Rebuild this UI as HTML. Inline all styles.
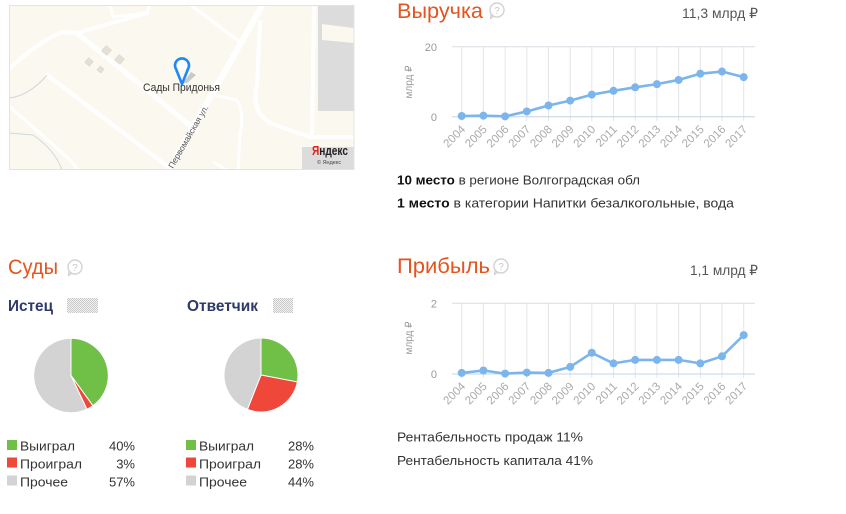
<!DOCTYPE html>
<html><head><meta charset="utf-8"><style>
html,body{margin:0;padding:0;background:#fff;width:846px;height:514px;overflow:hidden}
svg{display:block;font-family:"Liberation Sans",sans-serif}
</style></head><body>
<svg width="846" height="514" viewBox="0 0 846 514" xmlns="http://www.w3.org/2000/svg">
<defs>
<clipPath id="mc"><rect x="9.5" y="5.5" width="344.5" height="164"/></clipPath>
<pattern id="dots" width="2" height="2" patternUnits="userSpaceOnUse">
<rect width="2" height="2" fill="#f3f3f3"/><rect width="1" height="1" fill="#c8c8c8"/><rect x="1" y="1" width="1" height="1" fill="#c8c8c8"/>
</pattern>
<g id="qi">
<path d="M-3.5,6.2 L-6.5,8.5 L-5.8,4.2" fill="#fff" stroke="#d2d2d2" stroke-width="1.4" stroke-linejoin="round"/>
<circle r="7" fill="#fff" stroke="#d2d2d2" stroke-width="1.4"/>
<text y="3.8" font-size="10" fill="#c8c8c8" text-anchor="middle">?</text>
</g>
</defs>

<!-- MAP -->
<g clip-path="url(#mc)">
<rect x="9.5" y="5.5" width="344.5" height="164" fill="#fbf8f0"/>
<rect x="318" y="5" width="40" height="106" fill="#dcdcdc"/>
<polygon points="322,24 354,28 354,43 322,40" fill="#fbf8f0"/>
<rect x="302" y="147" width="56" height="25" fill="#dcdcdc"/>
<g fill="none" stroke="#ffffff" stroke-linecap="round">
<path d="M263,4 L168,172" stroke-width="6"/>
<path d="M77,33 L197,131" stroke-width="5"/>
<path d="M47,75 L175,172" stroke-width="4"/>
<path d="M8,70 Q40,40 63,32 L77,33 L147,13" stroke-width="4"/>
<path d="M110,6 L113,17 L147,13 L150,4" stroke-width="3"/>
<path d="M192,6 L240,42" stroke-width="3"/>
<path d="M260,22 L257,84 Q250,115 275,125 L310,137 L356,137" stroke-width="4"/>
<path d="M314,4 L312,135" stroke-width="4"/>
<path d="M215,95 L236,100 Q245,110 240,135 L238,172" stroke-width="3"/>
<path d="M8,105 L70,160 L80,172" stroke-width="3"/>
<path d="M215,163 L230,172" stroke-width="3"/>
</g>
<g fill="none" stroke="#cfd7e0" stroke-width="1">
<path d="M9,133 L33,135 Q55,150 62,170"/>
<path d="M47,75 Q30,95 10,98"/>
</g>
<g fill="#e4e0d8" stroke="#d6d2ca" stroke-width="0.5">
<rect x="103" y="47" width="7" height="7" transform="rotate(40 106.5 50.5)"/>
<rect x="116" y="56" width="7" height="7" transform="rotate(40 119.5 59.5)"/>
<rect x="86" y="59" width="6" height="6" transform="rotate(40 89 62)"/>
<rect x="98" y="67" width="5" height="5" transform="rotate(40 100.5 69.5)"/>
</g>
<polygon points="183,83 191,72 196,75 187,83" fill="#bdbdbd" opacity="0.8"/>
<path d="M182,84 L176,69 A7,7 0 1 1 188,69 Z" fill="none" stroke="#1e88f5" stroke-width="2.6" stroke-linejoin="round"/>
<circle cx="182" cy="65.5" r="5" fill="#fff"/>
<text x="143" y="91" font-size="11" fill="#333" textLength="77" lengthAdjust="spacingAndGlyphs">Сады Придонья</text>
<text x="0" y="0" font-size="8.5" fill="#555" transform="translate(173,169) rotate(-60)">Первомайская ул.</text>
<text x="312" y="155" font-size="13" font-weight="bold" fill="#222" textLength="36" lengthAdjust="spacingAndGlyphs"><tspan fill="#e3231b">Я</tspan>ндекс</text>
<text x="317" y="164" font-size="5.5" fill="#444">© Яндекс</text>
</g>
<rect x="9.5" y="5.5" width="344.5" height="164" fill="none" stroke="#e3e3e3" stroke-width="1"/>

<!-- REVENUE -->
<text x="397" y="18" font-size="21" fill="#e4541e" textLength="86" lengthAdjust="spacingAndGlyphs">Выручка</text>
<use href="#qi" x="497" y="10"/>
<text x="758" y="18" font-size="14" fill="#555" text-anchor="end" textLength="76" lengthAdjust="spacingAndGlyphs">11,3 млрд ₽</text>

<g stroke="#e2e6ea" stroke-width="1">
<line x1="461.7" y1="46.7" x2="461.7" y2="121"/><line x1="483.4" y1="46.7" x2="483.4" y2="121"/><line x1="505.1" y1="46.7" x2="505.1" y2="121"/><line x1="526.8" y1="46.7" x2="526.8" y2="121"/><line x1="548.5" y1="46.7" x2="548.5" y2="121"/><line x1="570.2" y1="46.7" x2="570.2" y2="121"/><line x1="591.8" y1="46.7" x2="591.8" y2="121"/><line x1="613.5" y1="46.7" x2="613.5" y2="121"/><line x1="635.2" y1="46.7" x2="635.2" y2="121"/><line x1="656.9" y1="46.7" x2="656.9" y2="121"/><line x1="678.6" y1="46.7" x2="678.6" y2="121"/><line x1="700.3" y1="46.7" x2="700.3" y2="121"/><line x1="722" y1="46.7" x2="722" y2="121"/><line x1="743.7" y1="46.7" x2="743.7" y2="121"/>
</g>
<line x1="452" y1="46.7" x2="755" y2="46.7" stroke="#d8dde4"/>
<line x1="452" y1="116.7" x2="755" y2="116.7" stroke="#c6d3e2"/>
<text x="437" y="51" font-size="11" fill="#999" text-anchor="end">20</text>
<text x="437" y="121" font-size="11" fill="#999" text-anchor="end">0</text>
<text font-size="10" fill="#999" text-anchor="middle" transform="translate(412,82) rotate(-90)">млрд ₽</text>
<polyline fill="none" stroke="#7cb5ec" stroke-width="2.6" stroke-linejoin="round" points="461.7,116 483.4,115.65 505.1,116.35 526.8,111.45 548.5,105.5 570.2,100.6 591.8,94.65 613.5,90.8 635.2,87.3 656.9,84.15 678.6,79.95 700.3,73.65 722,71.55 743.7,77.15"/>
<g fill="#7cb5ec">
<circle cx="461.7" cy="116" r="4"/><circle cx="483.4" cy="115.65" r="4"/><circle cx="505.1" cy="116.35" r="4"/><circle cx="526.8" cy="111.45" r="4"/><circle cx="548.5" cy="105.5" r="4"/><circle cx="570.2" cy="100.6" r="4"/><circle cx="591.8" cy="94.65" r="4"/><circle cx="613.5" cy="90.8" r="4"/><circle cx="635.2" cy="87.3" r="4"/><circle cx="656.9" cy="84.15" r="4"/><circle cx="678.6" cy="79.95" r="4"/><circle cx="700.3" cy="73.65" r="4"/><circle cx="722" cy="71.55" r="4"/><circle cx="743.7" cy="77.15" r="4"/>
</g>
<g font-size="11.5" fill="#aaa" text-anchor="end">
<text transform="translate(466,130) rotate(-45)">2004</text><text transform="translate(487.7,130) rotate(-45)">2005</text><text transform="translate(509.4,130) rotate(-45)">2006</text><text transform="translate(531.1,130) rotate(-45)">2007</text><text transform="translate(552.8,130) rotate(-45)">2008</text><text transform="translate(574.5,130) rotate(-45)">2009</text><text transform="translate(596.1,130) rotate(-45)">2010</text><text transform="translate(617.8,130) rotate(-45)">2011</text><text transform="translate(639.5,130) rotate(-45)">2012</text><text transform="translate(661.2,130) rotate(-45)">2013</text><text transform="translate(682.9,130) rotate(-45)">2014</text><text transform="translate(704.6,130) rotate(-45)">2015</text><text transform="translate(726.3,130) rotate(-45)">2016</text><text transform="translate(748,130) rotate(-45)">2017</text>
</g>

<text x="397" y="184.5" font-size="13" fill="#333" textLength="243" lengthAdjust="spacingAndGlyphs"><tspan font-weight="bold" fill="#111">10 место</tspan> в регионе Волгоградская обл</text>
<text x="397" y="207.5" font-size="13" fill="#333" textLength="337" lengthAdjust="spacingAndGlyphs"><tspan font-weight="bold" fill="#111">1 место</tspan> в категории Напитки безалкогольные, вода</text>

<!-- PROFIT -->
<text x="397" y="273" font-size="21" fill="#e4541e" textLength="93" lengthAdjust="spacingAndGlyphs">Прибыль</text>
<use href="#qi" x="501" y="266"/>
<text x="758" y="275" font-size="14" fill="#555" text-anchor="end" textLength="68" lengthAdjust="spacingAndGlyphs">1,1 млрд ₽</text>

<g stroke="#e2e6ea" stroke-width="1">
<line x1="461.7" y1="303.3" x2="461.7" y2="378"/><line x1="483.4" y1="303.3" x2="483.4" y2="378"/><line x1="505.1" y1="303.3" x2="505.1" y2="378"/><line x1="526.8" y1="303.3" x2="526.8" y2="378"/><line x1="548.5" y1="303.3" x2="548.5" y2="378"/><line x1="570.2" y1="303.3" x2="570.2" y2="378"/><line x1="591.8" y1="303.3" x2="591.8" y2="378"/><line x1="613.5" y1="303.3" x2="613.5" y2="378"/><line x1="635.2" y1="303.3" x2="635.2" y2="378"/><line x1="656.9" y1="303.3" x2="656.9" y2="378"/><line x1="678.6" y1="303.3" x2="678.6" y2="378"/><line x1="700.3" y1="303.3" x2="700.3" y2="378"/><line x1="722" y1="303.3" x2="722" y2="378"/><line x1="743.7" y1="303.3" x2="743.7" y2="378"/>
</g>
<line x1="452" y1="303.3" x2="755" y2="303.3" stroke="#d8dde4"/>
<line x1="452" y1="374" x2="755" y2="374" stroke="#c6d3e2"/>
<text x="437" y="307.5" font-size="11" fill="#999" text-anchor="end">2</text>
<text x="437" y="378" font-size="11" fill="#999" text-anchor="end">0</text>
<text font-size="10" fill="#999" text-anchor="middle" transform="translate(412,338) rotate(-90)">млрд ₽</text>
<polyline fill="none" stroke="#7cb5ec" stroke-width="2.6" stroke-linejoin="round" points="461.7,372.9 483.4,370.5 505.1,373.6 526.8,372.6 548.5,372.9 570.2,366.9 591.8,352.8 613.5,363.4 635.2,359.9 656.9,359.9 678.6,359.9 700.3,363.4 722,356.3 743.7,335.1"/>
<g fill="#7cb5ec">
<circle cx="461.7" cy="372.9" r="4"/><circle cx="483.4" cy="370.5" r="4"/><circle cx="505.1" cy="373.6" r="4"/><circle cx="526.8" cy="372.6" r="4"/><circle cx="548.5" cy="372.9" r="4"/><circle cx="570.2" cy="366.9" r="4"/><circle cx="591.8" cy="352.8" r="4"/><circle cx="613.5" cy="363.4" r="4"/><circle cx="635.2" cy="359.9" r="4"/><circle cx="656.9" cy="359.9" r="4"/><circle cx="678.6" cy="359.9" r="4"/><circle cx="700.3" cy="363.4" r="4"/><circle cx="722" cy="356.3" r="4"/><circle cx="743.7" cy="335.1" r="4"/>
</g>
<g font-size="11.5" fill="#aaa" text-anchor="end">
<text transform="translate(466,387) rotate(-45)">2004</text><text transform="translate(487.7,387) rotate(-45)">2005</text><text transform="translate(509.4,387) rotate(-45)">2006</text><text transform="translate(531.1,387) rotate(-45)">2007</text><text transform="translate(552.8,387) rotate(-45)">2008</text><text transform="translate(574.5,387) rotate(-45)">2009</text><text transform="translate(596.1,387) rotate(-45)">2010</text><text transform="translate(617.8,387) rotate(-45)">2011</text><text transform="translate(639.5,387) rotate(-45)">2012</text><text transform="translate(661.2,387) rotate(-45)">2013</text><text transform="translate(682.9,387) rotate(-45)">2014</text><text transform="translate(704.6,387) rotate(-45)">2015</text><text transform="translate(726.3,387) rotate(-45)">2016</text><text transform="translate(748,387) rotate(-45)">2017</text>
</g>

<text x="397" y="441.5" font-size="13" fill="#333" textLength="186" lengthAdjust="spacingAndGlyphs">Рентабельность продаж 11%</text>
<text x="397" y="465" font-size="13" fill="#333" textLength="196" lengthAdjust="spacingAndGlyphs">Рентабельность капитала 41%</text>

<!-- COURTS -->
<text x="8" y="274" font-size="21" fill="#e4541e" textLength="50" lengthAdjust="spacingAndGlyphs">Суды</text>
<use href="#qi" x="75" y="267"/>

<text x="8" y="311" font-size="15.5" font-weight="bold" fill="#2d3a6a" textLength="45" lengthAdjust="spacingAndGlyphs">Истец</text>
<rect x="67" y="298" width="31" height="15" fill="url(#dots)"/>
<text x="187" y="311" font-size="15.5" font-weight="bold" fill="#2d3a6a" textLength="71" lengthAdjust="spacingAndGlyphs">Ответчик</text>
<rect x="273" y="298" width="20" height="15" fill="url(#dots)"/>

<g stroke="#fff" stroke-width="1" stroke-linejoin="round">
<path d="M71,375.5 L71,338.2 A37.3,37.3 0 0 1 92.92,405.68 Z" fill="#70bf47"/>
<path d="M71,375.5 L92.92,405.68 A37.3,37.3 0 0 1 86.88,409.25 Z" fill="#ef473a"/>
<path d="M71,375.5 L86.88,409.25 A37.3,37.3 0 1 1 71,338.2 Z" fill="#d3d3d3"/>
<path d="M261,375 L261,338 A37,37 0 0 1 297.35,381.93 Z" fill="#70bf47"/>
<path d="M261,375 L297.35,381.93 A37,37 0 0 1 247.38,409.4 Z" fill="#ef473a"/>
<path d="M261,375 L247.38,409.4 A37,37 0 0 1 261,338 Z" fill="#d3d3d3"/>
</g>

<g font-size="13" fill="#333">
<rect x="7" y="440" width="10" height="10" fill="#70bf47"/>
<rect x="7" y="457.5" width="10" height="10" fill="#ef473a"/>
<rect x="7" y="475.5" width="10" height="10" fill="#d3d3d3"/>
<text x="20" y="450.5" textLength="55" lengthAdjust="spacingAndGlyphs">Выиграл</text>
<text x="20" y="468.5" textLength="62" lengthAdjust="spacingAndGlyphs">Проиграл</text>
<text x="20" y="486.5" textLength="48" lengthAdjust="spacingAndGlyphs">Прочее</text>
<text x="135" y="450.5" text-anchor="end">40%</text>
<text x="135" y="468.5" text-anchor="end">3%</text>
<text x="135" y="486.5" text-anchor="end">57%</text>

<rect x="186" y="440" width="10" height="10" fill="#70bf47"/>
<rect x="186" y="457.5" width="10" height="10" fill="#ef473a"/>
<rect x="186" y="475.5" width="10" height="10" fill="#d3d3d3"/>
<text x="199" y="450.5" textLength="55" lengthAdjust="spacingAndGlyphs">Выиграл</text>
<text x="199" y="468.5" textLength="62" lengthAdjust="spacingAndGlyphs">Проиграл</text>
<text x="199" y="486.5" textLength="48" lengthAdjust="spacingAndGlyphs">Прочее</text>
<text x="314" y="450.5" text-anchor="end">28%</text>
<text x="314" y="468.5" text-anchor="end">28%</text>
<text x="314" y="486.5" text-anchor="end">44%</text>
</g>
</svg>
</body></html>
